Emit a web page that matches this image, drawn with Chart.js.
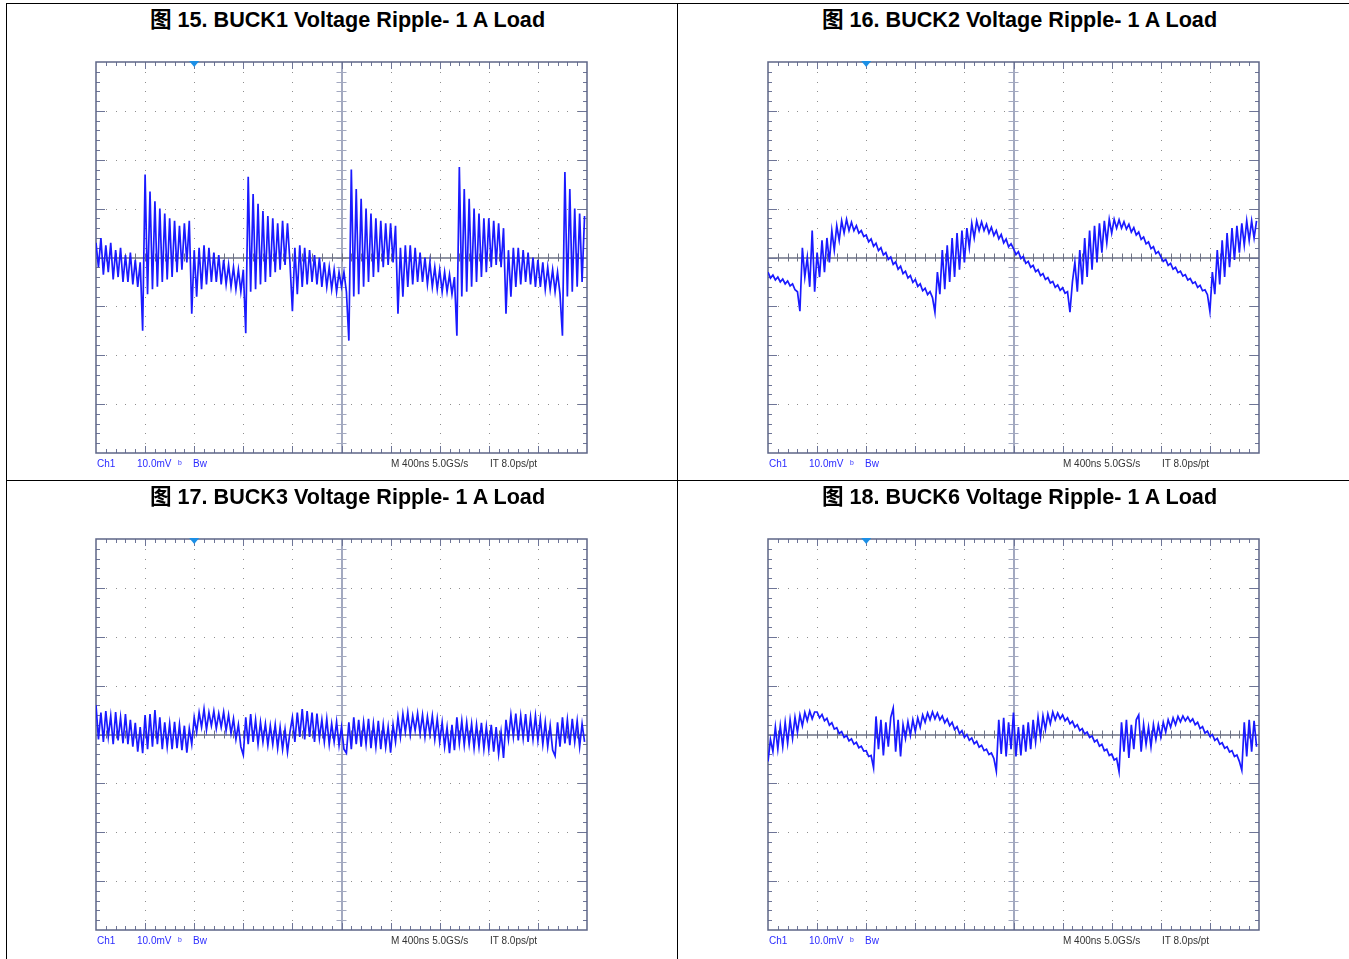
<!DOCTYPE html>
<html lang="zh">
<head>
<meta charset="UTF-8">
<title>BUCK Voltage Ripple - 1 A Load</title>
<style>
  html, body { margin: 0; padding: 0; background: #fff; }
  body { width: 1349px; height: 959px; position: relative; overflow: hidden;
         font-family: Arial, "Liberation Sans", "Noto Sans CJK SC", sans-serif; }
  .rule { position: absolute; background: #000; }
  .title { position: absolute; font-weight: bold; font-size: 21.6px; line-height: 24px;
           white-space: nowrap; transform: translateX(-50%); color: #000; }
  .scope { position: absolute; }
  .readout { position: absolute; font-size: 10px; line-height: 12px; white-space: nowrap; }
  .blue { color: #2b2bff; }
  .gray { color: #333; }
</style>
</head>
<body>

<!-- table rules -->
<div class="rule" style="left:6px;top:3px;width:1343px;height:1px"></div>
<div class="rule" style="left:6px;top:480px;width:1343px;height:1px"></div>
<div class="rule" style="left:6px;top:3px;width:1px;height:956px"></div>
<div class="rule" style="left:677px;top:3px;width:1px;height:956px"></div>

<div id="panels"></div>

<script src="https://cdn.jsdelivr.net/npm/chart.js@4.4.0/dist/chart.umd.min.js"></script>
<script>
// figure titles
const figureTitles = [
  '图 15. BUCK1 Voltage Ripple- 1 A Load',
  '图 16. BUCK2 Voltage Ripple- 1 A Load',
  '图 17. BUCK3 Voltage Ripple- 1 A Load',
  '图 18. BUCK6 Voltage Ripple- 1 A Load'
];

// scope readouts
const chLabels = ['Ch1', '10.0mV', 'ᵇ', 'Bw'];
const timeLabels = ['M 400ns 5.0GS/s', 'IT 8.0ps/pt'];

// time base: 10 div x 400 ns, 8 div x 10 mV
const timeSpanNs = 4000;
const mvPerDiv = 10;
const sampleNs = 20;
const triggerNs = 800;

// traces, mV, one row per division (20 samples of 20 ns)
const buck1Mv = [
  3, -2, 4, -3.5, 2.5, -3, 3, -4.5, 1.5, -4, 2, -5, 0.5, -5, 1, -5.5, -0.5, -6, -1, -15,
  17, -7.5, 13.5, -6.5, 11.5, -6, 10, -5, 9, -4.5, 8, -4, 7.5, -3, 6.5, -2.5, 7, -1, 7.5, -11.5,
  1.5, -8, 2, -6.5, 2.5, -5.5, 2, -5, 1, -5, 0.5, -5.5, -0.5, -5.5, -1.5, -6, -2, -6.5, -2.5, -7,
  -2.5, -15.5, 16.5, -7, 13, -6.5, 11, -5.5, 9.5, -5, 8.5, -4, 8, -3, 7, -2.5, 7.5, -1.5, 7, -1,
  -11, 2, -7.5, 2.5, -6, 2, -5.5, 1.5, -5, 0.5, -5.5, 0, -6, -1, -6, -2, -6.5, -2.5, -7, -3,
  -6, -3, -7, -17, 18, -8, 14, -7.5, 12, -6, 10, -5, 9, -4, 8, -3, 7.5, -2, 7, -1.5,
  7, -1, 6.5, -11.5, 2, -8, 2.5, -6, 2.5, -5.5, 2, -5, 1, -5, 0, -5.5, -1, -6, -2, -6.5,
  -2.5, -7, -3, -7, -3.5, -7.5, -4, -16, 18.5, -8, 14, -7, 12, -6, 10, -5, 9, -4, 8, -3,
  8, -2, 7.5, -1.5, 7, -2, 6, -11.5, 1.5, -8, 2, -6, 2, -5.5, 1.5, -5, 1, -5.5, 0, -6,
  -0.5, -6, -1, -6.5, -2, -6.5, -2.5, -7, -3, -7.5, -16, 17.5, -8, 14, -7, 10, -6, 9, -5, 8.5
];

const buck2Mv = [
  -3, -4.2, -3.6, -4.6, -4.0, -5.0, -4.4, -5.4, -4.8, -5.8, -5.4, -6.6, -7, -11, 2, -4, 0, -6, 5.5, -7,
  1, -4, 3.5, -3, 4, -1, 5.5, 1.5, 6.5, 3.5, 7.5, 5, 7.8, 5.5, 7.2, 5.5, 6.5, 5, 5.5, 4.3,
  4.6, 3.2, 3.8, 2.3, 2.9, 1.4, 2.0, 0.5, 1.0, -0.4, 0.1, -1.4, -0.9, -2.4, -1.8, -3.3, -2.8, -4.2, -3.7, -5.1,
  -4.5, -5.9, -5.4, -6.8, -6.3, -7.6, -7.0, -8.2, -11.2, -3, -7.5, 1.5, -6.5, 2.5, -5, 4, -4, 5, -2.5, 5.5,
  -1, 6, 2, 7, 4, 7.5, 5.5, 7.3, 5.5, 6.8, 5, 6.2, 4.5, 5.5, 3.8, 4.7, 3, 3.8, 2.2, 2.8,
  1.8, 0.6, 1.2, -0.2, 0.2, -1.2, -0.8, -2.0, -1.6, -2.9, -2.5, -3.7, -3.3, -4.5, -4.1, -5.2, -4.9, -6.1, -5.6, -6.7,
  -6.2, -7.3, -7.0, -11.2, -5, -1, -7, 1.5, -5.5, 4, -4, 5.5, -2.5, 6.5, -1, 7, 1, 7.5, 3, 7.8,
  5, 7.8, 6, 7.7, 6, 7.3, 5.8, 6.8, 5.2, 6.1, 4.6, 5.2, 3.7, 4.2, 2.8, 3.2, 1.8, 2.2, 0.8, 1.2,
  0.2, -0.8, -0.4, -1.6, -1.2, -2.4, -2.0, -3.1, -2.8, -3.8, -3.5, -4.6, -4.3, -5.3, -5.0, -6.1, -5.7, -6.8, -6.6, -7.6,
  -11, -3, -7.5, 1.5, -5.5, 3.5, -4, 5, -2, 6, -0.5, 6.5, 1, 7, 2.5, 7.5, 3.5, 7.5, 4, 7.5
];

const buck3Mv = [
  6, -1, 4.5, -1.5, 4.8, -0.5, 3.8, -2, 4.6, -1.2, 3.5, -1.8, 4.2, -2, 3, -2.5, 2.4, -3.5, 1.5, -3.8,
  4, -3, 4.2, -2.5, 5, -2, 3.5, -3, 2.5, -2.5, 2.2, -3, 2.6, -2.8, 2, -3.2, 1.8, -3.7, 1.2, -2,
  3.5, 0.5, 4.5, 1.5, 5.2, 1, 4.5, 1.8, 4.8, 1.2, 4.3, 1.5, 4.6, 0.8, 4, 0.2, 3.2, -1, 2, -2.5,
  -4.2, 3.5, -2, 4.2, -1.5, 3, -2, 2.5, -1.5, 2.2, -2.2, 1.8, -2, 2, -2.8, 1.5, -3, 1, -3.6, 0.5,
  3.5, -1.5, 4.5, -0.5, 5.2, -1, 4.8, -0.5, 4.5, -1.5, 4.3, -0.8, 3, -1.5, 3.2, -2, 2.2, -1.5, 2.6, -2.2,
  1.5, -3, -3.8, 2.5, -3, 3.5, -2, 3, -2.5, 2.5, -2, 3.2, -2.8, 2.2, -2.5, 2.8, -3, 2, -2.6, 1.5,
  -3.7, 2, -1.5, 3.5, -0.5, 4.2, 0.5, 4.5, 0, 3.8, 0.8, 4.3, 0.2, 4, -0.5, 3.6, 0, 3.8, -1, 3.2,
  -1.5, 2.5, -2.5, 1.5, -3.8, 2, -3.2, 3.5, -1.8, 2.8, -2.2, 2.5, -2, 2.2, -2.8, 2, -2.5, 2.4, -3, 1.6,
  -3, 2, -3.5, 1.5, -4, 0.5, -4.8, 3, -1, 4, -0.5, 4.3, -1.2, 3.8, -0.8, 4.2, -1.5, 3.5, -1, 3.8,
  -1.2, 3.2, -2, 2.5, -2.5, 1.8, -3.2, -4.4, 2.5, -2.5, 3.5, -1.8, 3, -2.2, 3.2, -1.5, 2.8, -2.5, 2.2, -1.5
];

const buck6Mv = [
  -5.5, -1, -3.5, 1.5, -3, 1.8, -2.5, 2.5, -1.8, 3, -0.8, 3.5, 0.5, 4, 1.8, 4.5, 2.8, 4.8, 3.2, 4.6,
  4.6, 3.4, 4.1, 2.8, 3.3, 1.9, 2.4, 1.1, 1.4, 0.2, 0.6, -0.6, -0.2, -1.3, -0.9, -2.0, -1.6, -2.7, -2.4, -3.4,
  -3.3, -4.5, -4.3, -6.8, 3.7, -3, 3, -4.3, 2.5, -2.5, 3.5, 5.4, -3.5, 3, -4.5, 2, -0.8, 2.6, -0.2, 3.0,
  0.6, 3.4, 1.5, 4, 2.5, 4.4, 3, 4.6, 3.2, 4.4, 3, 3.8, 2.4, 3.2, 1.8, 2.5, 1.0, 1.6, 0.2, 0.8,
  -0.6, 0, -1.2, -0.7, -1.9, -1.4, -2.6, -2.2, -3.3, -3.0, -4.1, -3.8, -4.9, -7.5, 3, -4, 3.4, -4.5, 2.5, -3,
  4.5, -4.5, 1.5, -4.3, 2, -3.5, 2.5, -3, 3, -1.5, 3.5, -0.5, 3.8, 1, 4.2, 2.2, 4.6, 3, 4.4, 3.2,
  4.0, 2.8, 3.4, 2.2, 2.7, 1.5, 2.0, 0.8, 1.2, 0.1, 0.5, -0.6, -0.3, -1.5, -1.1, -2.4, -2.0, -3.3, -3.0, -4.3,
  -4.0, -5.2, -4.9, -7.6, 2.5, -3.5, 3, -4.8, 2, -3, 3, 4, -3.5, 2, -2, 1.5, -2.5, 2, -1, 2,
  -0.5, 2.5, 0.5, 3, 1.5, 3.4, 2, 3.7, 2.6, 3.8, 2.8, 3.6, 2.6, 3.2, 2.0, 2.5, 1.2, 1.6, 0.3, 0.7,
  -0.4, 0, -1.2, -0.8, -2.0, -1.7, -2.8, -2.5, -3.6, -3.3, -4.5, -4.2, -5.5, -7.3, 2.5, -4.5, 3, -3.5, 2.8, -2.5
];

const traces = [buck1Mv, buck2Mv, buck3Mv, buck6Mv];

// page layout of each scope screen (plot area corner)
const PAD = 6;
const plotW = 491, plotH = 391;
const panelPos = [
  { left: 96, top: 62 },
  { left: 768, top: 62 },
  { left: 96, top: 539 },
  { left: 768, top: 539 }
];

// scope graticule: dotted divisions, centre cross, edge ticks, trigger mark
const graticule = {
  id: 'graticule',
  beforeDatasetsDraw(chart) {
    const { ctx, chartArea: a, scales: { x, y } } = chart;
    const ymax = 4 * mvPerDiv;
    const cx = x.getPixelForValue(timeSpanNs / 2), cy = y.getPixelForValue(0);
    const colW = (a.right - a.left) / 10, rowH = (a.bottom - a.top) / 8;
    ctx.save();

    // dotted grid lines
    ctx.fillStyle = '#8e8e8e';
    for (let c = 1; c < 10; c++) {
      if (c === 5) continue;
      const px = Math.round(x.getPixelForValue(c * timeSpanNs / 10));
      for (let k = 1; k < 40; k++) ctx.fillRect(px, Math.round(a.top + k * rowH / 5), 1, 1);
    }
    for (let r = 1; r < 8; r++) {
      if (r === 4) continue;
      const py = Math.round(y.getPixelForValue(ymax - r * mvPerDiv));
      for (let k = 1; k < 50; k++) ctx.fillRect(Math.round(a.left + k * colW / 5), py, 1, 1);
    }

    // centre cross
    ctx.lineWidth = 2;
    ctx.strokeStyle = '#a3a9c0';
    ctx.beginPath();
    ctx.moveTo(Math.round(cx), a.top); ctx.lineTo(Math.round(cx), a.bottom);
    ctx.stroke();
    ctx.lineWidth = 1;
    ctx.beginPath();
    for (let k = 1; k < 40; k++) {
      const py = Math.round(a.top + k * rowH / 5) + 0.5;
      ctx.moveTo(cx - 5, py); ctx.lineTo(cx + 5, py);
    }
    ctx.stroke();

    ctx.strokeStyle = '#6c7184';
    ctx.lineWidth = 1.5;
    ctx.beginPath();
    ctx.moveTo(a.left, Math.round(cy)); ctx.lineTo(a.right, Math.round(cy));
    ctx.stroke();
    ctx.lineWidth = 1;
    ctx.beginPath();
    for (let k = 1; k < 50; k++) {
      const px = Math.round(a.left + k * colW / 5) + 0.5;
      ctx.moveTo(px, cy - 4); ctx.lineTo(px, cy + 4);
    }
    ctx.stroke();

    // edge ticks
    ctx.strokeStyle = '#6e7597';
    ctx.lineWidth = 1;
    ctx.beginPath();
    for (let k = 1; k < 50; k++) {
      const px = Math.round(a.left + k * colW / 5) + 0.5;
      const len = k % 5 === 0 ? 7 : 4;
      ctx.moveTo(px, a.top); ctx.lineTo(px, a.top + len);
      ctx.moveTo(px, a.bottom); ctx.lineTo(px, a.bottom - len);
    }
    for (let k = 1; k < 40; k++) {
      const py = Math.round(a.top + k * rowH / 5) + 0.5;
      const len = k % 5 === 0 ? 9 : 4;
      ctx.moveTo(a.left, py); ctx.lineTo(a.left + len, py);
      ctx.moveTo(a.right, py); ctx.lineTo(a.right - len, py);
    }
    ctx.stroke();

    // frame
    ctx.strokeStyle = '#5d6587';
    ctx.lineWidth = 1.5;
    ctx.strokeRect(a.left, a.top, a.right - a.left, a.bottom - a.top);
    ctx.restore();
  },
  afterDatasetsDraw(chart) {
    const { ctx, chartArea: a, scales: { x } } = chart;
    const tx = x.getPixelForValue(triggerNs);
    ctx.save();
    ctx.fillStyle = '#1b8fe6';
    ctx.beginPath();
    ctx.moveTo(tx - 5, a.top - 1);
    ctx.lineTo(tx + 5, a.top - 1);
    ctx.lineTo(tx, a.top + 5);
    ctx.closePath();
    ctx.fill();
    ctx.restore();
  }
};

const holder = document.getElementById('panels');

panelPos.forEach((p, n) => {
  // title
  const t = document.createElement('div');
  t.className = 'title';
  t.textContent = figureTitles[n];
  t.style.left = (p.left + plotW / 2 + 6) + 'px';
  t.style.top = (p.top - 54.5) + 'px';
  holder.appendChild(t);

  // scope screen
  const c = document.createElement('canvas');
  c.className = 'scope';
  c.width = plotW + 2 * PAD;
  c.height = plotH + 2 * PAD;
  c.style.left = (p.left - PAD) + 'px';
  c.style.top = (p.top - PAD) + 'px';
  holder.appendChild(c);

  // readouts under the screen
  const chX = [1, 41, 82, 97];
  chLabels.forEach((s, i) => {
    const d = document.createElement('div');
    d.className = 'readout blue';
    d.textContent = s;
    d.style.left = (p.left + chX[i]) + 'px';
    d.style.top = (p.top + plotH + 5) + 'px';
    holder.appendChild(d);
  });
  const tX = [295, 394];
  timeLabels.forEach((s, i) => {
    const d = document.createElement('div');
    d.className = 'readout gray';
    d.textContent = s;
    d.style.left = (p.left + tX[i]) + 'px';
    d.style.top = (p.top + plotH + 5) + 'px';
    holder.appendChild(d);
  });

  new Chart(c, {
    type: 'line',
    data: {
      datasets: [{
        data: traces[n].map((v, i) => ({ x: i * sampleNs, y: v })),
        borderColor: 'rgb(26,26,255)',
        borderWidth: 1.7,
        pointRadius: 0,
        tension: 0
      }]
    },
    options: {
      responsive: false,
      animation: false,
      events: [],
      layout: { padding: PAD },
      plugins: { legend: { display: false }, tooltip: { enabled: false } },
      scales: {
        x: { type: 'linear', min: 0, max: timeSpanNs, display: false },
        y: { min: -4 * mvPerDiv, max: 4 * mvPerDiv, display: false }
      }
    },
    plugins: [graticule]
  });
});
</script>
</body>
</html>
